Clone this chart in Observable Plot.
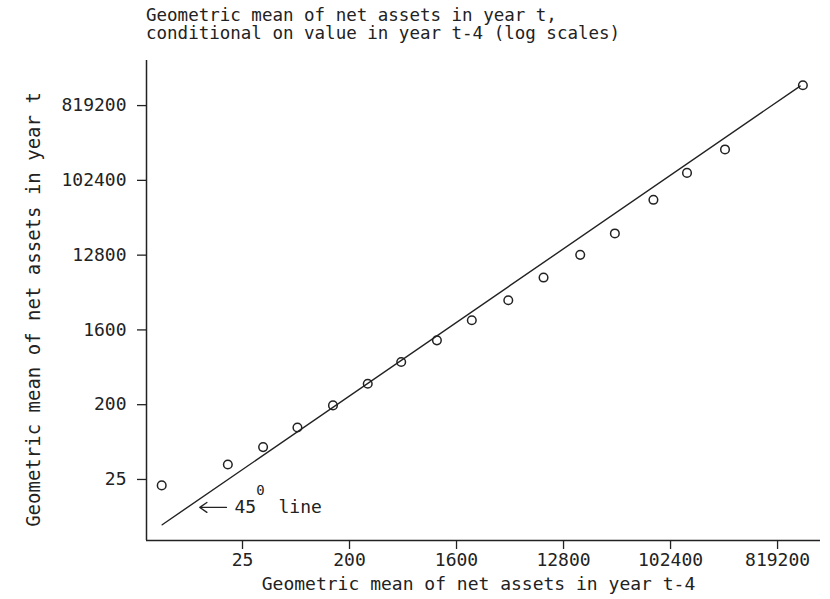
<!DOCTYPE html>
<html>
<head>
<meta charset="utf-8">
<script src="https://cdn.jsdelivr.net/npm/d3@7"></script>
<script src="https://cdn.jsdelivr.net/npm/@observablehq/plot@0.6"></script>
<style>
  html, body { margin: 0; padding: 0; background: #fff; }
  #title {
    height: 52px; box-sizing: border-box; padding: 6px 0 0 146px;
    font-family: "DejaVu Sans Mono", monospace; font-size: 17.5px; line-height: 18px;
    color: #222; white-space: pre;
  }
  svg { display: block; overflow: visible; }
</style>
</head>
<body>
<div id="title">Geometric mean of net assets in year t,
conditional on value in year t-4 (log scales)</div>
<div id="chart"></div>
<script>
const xVals = [5.2, 18.8, 37.3, 72.7, 145, 285, 546, 1093, 2153, 4374, 8680, 17700, 34700, 73400, 141000, 295000, 1340000];
const yVals = [21.2, 37.9, 61.5, 106, 196, 358, 655, 1197, 2093, 3650, 6860, 12900, 23400, 59600, 126000, 242000, 1440000];
// 45 degree reference line end points
const lineX = [5.25, 1270000];
const lineY = [7.1, 1410000];
// tick values
const tickValues = [25, 200, 1600, 12800, 102400, 819200];
// axis extents
const xDomain = [3.87, 1887000];
const yDomain = [4.58, 2870000];
// annotation positions (data units)
const arrowX = [18.3, 10.9];
const arrowY = 11.5;
const labelX = [21.4, 50.3];
const supX = 35.5, supY = 18.5;

const points = xVals.map((x, i) => ({x, y: yVals[i]}));
const line = lineX.map((x, i) => ({x, y: lineY[i]}));

const ink = "#222";
const chart = Plot.plot({
  width: 830,
  height: 547,
  marginTop: 8,
  marginBottom: 59,
  marginLeft: 146,
  marginRight: 10,
  style: {fontFamily: "DejaVu Sans Mono, monospace", fontSize: "18px", color: ink, background: "#fff", overflow: "visible"},
  x: {type: "log", domain: xDomain},
  y: {type: "log", domain: yDomain},
  marks: [
    Plot.ruleX([xDomain[0]], {stroke: ink, strokeWidth: 1.5}),
    Plot.ruleY([yDomain[0]], {stroke: ink, strokeWidth: 1.5}),
    Plot.axisX({ticks: tickValues, tickFormat: () => "", tickSize: 9, label: null, stroke: ink, strokeWidth: 1.3}),
    Plot.axisY({ticks: tickValues, tickFormat: () => "", tickSize: 9, label: null, stroke: ink, strokeWidth: 1.3}),
    // tick labels
    Plot.text(tickValues, {x: d => d, text: d => String(d), frameAnchor: "bottom", textAnchor: "middle", lineAnchor: "top", dy: 13, fill: ink, fontSize: 18}),
    Plot.text(tickValues, {y: d => d, text: d => String(d), frameAnchor: "left", textAnchor: "end", lineAnchor: "middle", dx: -20, fill: ink, fontSize: 18}),
    Plot.line(line, {x: "x", y: "y", stroke: ink, strokeWidth: 1.4}),
    Plot.dot(points, {x: "x", y: "y", r: 4.3, stroke: ink, strokeWidth: 1.5, fill: "none"}),
    Plot.arrow([{x1: arrowX[0], x2: arrowX[1], y: arrowY}], {x1: "x1", x2: "x2", y1: "y", y2: "y", stroke: ink, strokeWidth: 1.3, headLength: 10, headAngle: 70, inset: 0}),
    Plot.text([{x: labelX[0], y: arrowY, t: "45"}, {x: labelX[1], y: arrowY, t: "line"}], {x: "x", y: "y", text: "t", textAnchor: "start", lineAnchor: "middle", fill: ink, fontSize: 18}),
    Plot.text([{x: supX, y: supY, t: "0"}], {x: "x", y: "y", text: "t", textAnchor: "middle", lineAnchor: "middle", fill: ink, fontSize: 14}),
    // axis titles
    Plot.text(["Geometric mean of net assets in year t-4"], {frameAnchor: "bottom", textAnchor: "middle", dx: -5, dy: 44, lineAnchor: "middle", fill: ink, fontSize: 18}),
    Plot.text(["Geometric mean of net assets in year t"], {frameAnchor: "left", textAnchor: "middle", dx: -113, dy: 9, rotate: -90, lineAnchor: "middle", fill: ink, fontSize: 19})
  ]
});
document.getElementById("chart").appendChild(chart);
</script>
</body>
</html>
